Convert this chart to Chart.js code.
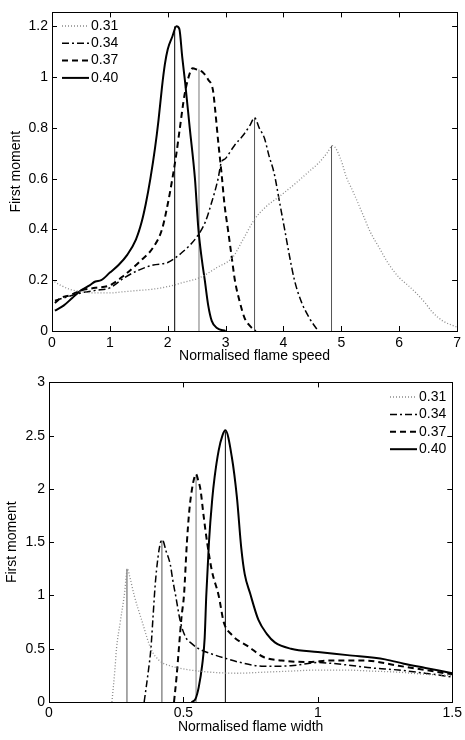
<!DOCTYPE html>
<html>
<head>
<meta charset="utf-8">
<script src="https://cdn.jsdelivr.net/npm/chart.js@4.4.0/dist/chart.umd.min.js"></script>
<style>
  html, body { margin: 0; padding: 0; background: #fff; }
  .panel { position: absolute; left: 0; width: 465px; height: 370px; }
  #top { top: 0; }
  #bottom { top: 370px; }
</style>
</head>
<body>
<div class="panel" id="top"><canvas id="speedChart" width="465" height="370"></canvas></div>
<div class="panel" id="bottom"><canvas id="widthChart" width="465" height="370"></canvas></div>
<script>
// ----- DATA -----
const seriesLabels = ["0.31", "0.34", "0.37", "0.40"];

// top panel : first moment vs normalised flame speed
const speedX031 = [0, 0.15, 0.3, 0.5, 0.75, 1.0, 1.25, 1.5, 1.75, 2.0, 2.25, 2.55, 2.85, 3.12, 3.3, 3.5, 3.7, 3.93, 4.2, 4.45, 4.6, 4.75, 4.85, 5.0, 5.08, 5.2, 5.37, 5.5, 5.65, 5.8, 6.0, 6.15, 6.29, 6.45, 6.57, 6.75, 7.0];
const speedY031 = [0.20, 0.18, 0.165, 0.155, 0.15, 0.15, 0.155, 0.16, 0.165, 0.175, 0.19, 0.21, 0.25, 0.29, 0.36, 0.44, 0.49, 0.53, 0.58, 0.63, 0.66, 0.70, 0.73, 0.67, 0.61, 0.55, 0.46, 0.39, 0.33, 0.27, 0.21, 0.18, 0.15, 0.11, 0.075, 0.04, 0.015];
const speedX034 = [0.05, 0.2, 0.5, 0.75, 1.0, 1.25, 1.5, 1.75, 2.0, 2.25, 2.5, 2.65, 2.75, 2.87, 2.92, 3.0, 3.15, 3.3, 3.42, 3.5, 3.58, 3.67, 3.75, 3.84, 3.93, 4.02, 4.1, 4.19, 4.3, 4.45, 4.6];
const speedY034 = [0.12, 0.13, 0.15, 0.16, 0.17, 0.21, 0.24, 0.26, 0.27, 0.31, 0.37, 0.43, 0.50, 0.60, 0.66, 0.68, 0.73, 0.77, 0.81, 0.84, 0.80, 0.76, 0.69, 0.62, 0.51, 0.40, 0.30, 0.20, 0.12, 0.05, 0.0];
const speedX037 = [0.05, 0.15, 0.3, 0.5, 0.75, 1.0, 1.25, 1.5, 1.75, 1.9, 2.0, 2.08, 2.15, 2.21, 2.29, 2.36, 2.43, 2.5, 2.6, 2.7, 2.78, 2.82, 2.87, 2.93, 2.98, 3.04, 3.1, 3.16, 3.25, 3.33, 3.42, 3.52];
const speedY037 = [0.11, 0.13, 0.14, 0.16, 0.17, 0.18, 0.22, 0.27, 0.33, 0.40, 0.50, 0.60, 0.70, 0.80, 0.93, 1.00, 1.035, 1.03, 1.02, 0.99, 0.95, 0.87, 0.75, 0.62, 0.50, 0.40, 0.30, 0.20, 0.11, 0.05, 0.02, 0.0];
const speedX040 = [0.05, 0.2, 0.35, 0.5, 0.65, 0.75, 0.85, 1.0, 1.15, 1.3, 1.45, 1.55, 1.62, 1.7, 1.78, 1.84, 1.9, 1.95, 2.0, 2.08, 2.15, 2.2, 2.25, 2.3, 2.38, 2.47, 2.53, 2.59, 2.64, 2.7, 2.76, 2.85, 3.0];
const speedY040 = [0.08, 0.10, 0.13, 0.16, 0.18, 0.195, 0.20, 0.23, 0.26, 0.30, 0.36, 0.43, 0.50, 0.60, 0.72, 0.83, 0.96, 1.05, 1.11, 1.16, 1.20, 1.19, 1.08, 0.98, 0.80, 0.60, 0.40, 0.28, 0.20, 0.10, 0.04, 0.012, 0.0];
const speedPeakX = [4.83, 3.50, 2.54, 2.12];
const speedPeakY = [0.73, 0.84, 1.03, 1.20];
const speedXTicks = [0, 1, 2, 3, 4, 5, 6, 7];
const speedYTicks = [0, 0.2, 0.4, 0.6, 0.8, 1, 1.2];

// bottom panel : first moment vs normalised flame width
const widthX031 = [0.234, 0.245, 0.251, 0.265, 0.28, 0.292, 0.30, 0.317, 0.347, 0.379, 0.41, 0.45, 0.5, 0.6, 0.7, 0.8, 0.9, 1.0, 1.1, 1.2, 1.3, 1.4, 1.5];
const widthY031 = [0, 0.3, 0.5, 0.75, 1.0, 1.25, 1.18, 1.0, 0.75, 0.5, 0.39, 0.34, 0.31, 0.28, 0.27, 0.28, 0.29, 0.30, 0.30, 0.29, 0.28, 0.26, 0.25];
const widthX034 = [0.354, 0.37, 0.379, 0.387, 0.395, 0.405, 0.415, 0.422, 0.435, 0.452, 0.46, 0.471, 0.489, 0.508, 0.53, 0.557, 0.606, 0.656, 0.705, 0.8, 0.9, 1.0, 1.1, 1.2, 1.3, 1.4, 1.5];
const widthY034 = [0, 0.3, 0.5, 0.8, 1.1, 1.35, 1.5, 1.52, 1.42, 1.28, 1.15, 1.0, 0.75, 0.61, 0.55, 0.50, 0.45, 0.41, 0.375, 0.335, 0.34, 0.37, 0.35, 0.32, 0.30, 0.27, 0.235];
const widthX037 = [0.465, 0.475, 0.483, 0.493, 0.502, 0.513, 0.522, 0.532, 0.54, 0.547, 0.555, 0.563, 0.575, 0.588, 0.606, 0.631, 0.65, 0.68, 0.742, 0.8, 0.865, 0.964, 1.05, 1.17, 1.3, 1.4, 1.5];
const widthY037 = [0, 0.25, 0.5, 0.8, 1.0, 1.5, 1.8, 2.0, 2.1, 2.14, 2.08, 2.0, 1.75, 1.5, 1.23, 1.0, 0.75, 0.63, 0.52, 0.42, 0.39, 0.375, 0.39, 0.39, 0.34, 0.30, 0.26];
const widthX040 = [0.53, 0.545, 0.557, 0.57, 0.579, 0.585, 0.595, 0.607, 0.616, 0.631, 0.645, 0.656, 0.68, 0.699, 0.715, 0.728, 0.748, 0.779, 0.81, 0.84, 0.9, 1.0, 1.11, 1.25, 1.32, 1.4, 1.5];
const widthY040 = [0, 0.03, 0.14, 0.35, 0.6, 1.0, 1.5, 1.9, 2.11, 2.36, 2.5, 2.55, 2.3, 1.92, 1.45, 1.2, 1.02, 0.77, 0.64, 0.56, 0.50, 0.47, 0.44, 0.40, 0.36, 0.32, 0.27];
const widthPeakX = [0.29, 0.42, 0.547, 0.656];
const widthPeakY = [1.25, 1.52, 2.13, 2.54];
const widthXTicks = [0, 0.5, 1, 1.5];
const widthYTicks = [0, 0.5, 1, 1.5, 2, 2.5, 3];


// ----- STYLES -----
Chart.defaults.font.family = 'Arial, "Liberation Sans", Helvetica, sans-serif';
Chart.defaults.font.size = 14;
Chart.defaults.color = "#000";

const lineStyles = [
    { color: "#8a8a8a", width: 1.3, dash: [1, 2] },
    { color: "#000", width: 1.5, dash: [7, 3, 2, 3] },
    { color: "#000", width: 2, dash: [6, 4] },
    { color: "#000", width: 2, dash: [] }
];
const peakColors = ["#555", "#555", "#777", "#000"];

const pts = (xs, ys) => xs.map((x, i) => ({ x: x, y: ys[i] }));


// ----- PLUGINS : box with inward ticks, legend inside the axes -----
const frame = {
    id: "frame",
    afterDatasetsDraw(chart) {
        const { ctx, chartArea: a, scales } = chart;
        const len = 5;
        ctx.save();
        ctx.strokeStyle = "#000";
        ctx.lineWidth = 1;
        ctx.strokeRect(Math.round(a.left) + 0.5, Math.round(a.top) + 0.5, Math.round(a.right - a.left), Math.round(a.bottom - a.top));
        ctx.beginPath();
        scales.x.ticks.forEach(t => {
            const p = Math.round(scales.x.getPixelForValue(t.value)) + 0.5;
            ctx.moveTo(p, a.bottom); ctx.lineTo(p, a.bottom - len);
            ctx.moveTo(p, a.top); ctx.lineTo(p, a.top + len);
        });
        scales.y.ticks.forEach(t => {
            const p = Math.round(scales.y.getPixelForValue(t.value)) + 0.5;
            ctx.moveTo(a.left, p); ctx.lineTo(a.left + len, p);
            ctx.moveTo(a.right, p); ctx.lineTo(a.right - len, p);
        });
        ctx.stroke();
        ctx.restore();
    }
};

const inLegend = {
    id: "inLegend",
    afterDraw(chart, args, opts) {
        const ctx = chart.ctx;
        ctx.save();
        ctx.font = '14px Arial, "Liberation Sans", sans-serif';
        ctx.textBaseline = "middle";
        ctx.fillStyle = "#000";
        chart.data.datasets.filter(d => !d.peak).forEach((d, i) => {
            const y = opts.y + i * opts.step;
            ctx.beginPath();
            ctx.strokeStyle = d.borderColor;
            ctx.lineWidth = d.borderWidth;
            ctx.setLineDash(d.borderDash);
            ctx.moveTo(opts.x, y);
            ctx.lineTo(opts.x + opts.len, y);
            ctx.stroke();
            ctx.fillText(d.label, opts.x + opts.len + 2, y);
        });
        ctx.restore();
    }
};


// ----- CHART BUILDER -----
function buildChart(canvasId, curves, peakX, peakY, xTicks, yTicks, cfg) {
    const datasets = curves.map((c, i) => ({
        label: seriesLabels[i],
        data: pts(c[0], c[1]),
        borderColor: lineStyles[i].color,
        borderWidth: lineStyles[i].width,
        borderDash: lineStyles[i].dash,
        pointRadius: 0,
        fill: false,
        cubicInterpolationMode: "monotone"
    }));
    peakX.forEach((px, i) => {
        datasets.push({
            label: "peak " + seriesLabels[i],
            peak: true,
            data: [{ x: px, y: 0 }, { x: px, y: peakY[i] }],
            borderColor: peakColors[i],
            borderWidth: 1,
            pointRadius: 0,
            tension: 0
        });
    });

    return new Chart(document.getElementById(canvasId).getContext("2d"), {
        type: "line",
        data: { datasets: datasets },
        options: {
            responsive: false,
            animation: false,
            events: [],
            layout: { padding: cfg.padding },
            plugins: {
                legend: { display: false },
                tooltip: { enabled: false },
                inLegend: cfg.legend
            },
            scales: {
                x: {
                    type: "linear",
                    min: xTicks[0],
                    max: xTicks[xTicks.length - 1],
                    grid: { display: false, drawTicks: false },
                    border: { display: false },
                    afterBuildTicks: s => { s.ticks = xTicks.map(v => ({ value: v })); },
                    afterFit: s => { s.height = cfg.xHeight; },
                    ticks: { padding: cfg.xTickPad, maxRotation: 0, callback: v => String(v) },
                    title: { display: true, text: cfg.xTitle, padding: { top: 0, bottom: cfg.xTitlePad } }
                },
                y: {
                    type: "linear",
                    min: 0,
                    max: cfg.yMax,
                    grid: { display: false, drawTicks: false },
                    border: { display: false },
                    afterBuildTicks: s => { s.ticks = yTicks.map(v => ({ value: v })); },
                    afterFit: s => { s.width = cfg.yWidth; },
                    ticks: { padding: 4, callback: v => String(v) },
                    title: { display: true, text: "First moment", padding: { top: cfg.yTitlePad, bottom: 0 } }
                }
            }
        },
        plugins: [frame, inLegend]
    });
}

buildChart("speedChart",
    [[speedX031, speedY031], [speedX034, speedY034], [speedX037, speedY037], [speedX040, speedY040]],
    speedPeakX, speedPeakY, speedXTicks, speedYTicks,
    {
        padding: { top: 11, right: 7, left: 0, bottom: 0 },
        xHeight: 39, yWidth: 52, yMax: 1.255,
        xTickPad: 4, xTitlePad: 5, yTitlePad: 7.5,
        xTitle: "Normalised flame speed",
        legend: { x: 62, y: 26, step: 17.3, len: 27 }
    });

buildChart("widthChart",
    [[widthX031, widthY031], [widthX034, widthY034], [widthX037, widthY037], [widthX040, widthY040]],
    widthPeakX, widthPeakY, widthXTicks, widthYTicks,
    {
        padding: { top: 12, right: 10, left: 0, bottom: 0 },
        xHeight: 38, yWidth: 49, yMax: 3,
        xTickPad: 3, xTitlePad: 4, yTitlePad: 4,
        xTitle: "Normalised flame width",
        legend: { x: 390, y: 27, step: 17.4, len: 27 }
    });
</script>
</body>
</html>
